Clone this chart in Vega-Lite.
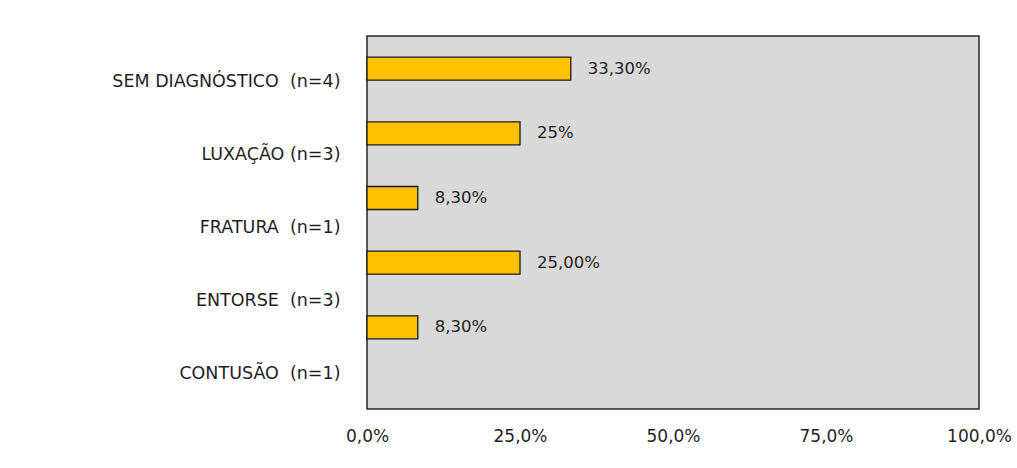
{
  "$schema": "https://vega.github.io/schema/vega-lite/v6.json",
  "autosize": "none",
  "width": 612,
  "height": 373,
  "padding": {"left": 367, "top": 36, "right": 38, "bottom": 59},
  "background": "#ffffff",
  "config": {
    "view": {"fill": "#d9d9d9", "stroke": "#262626", "strokeWidth": 1.5},
    "font": "DejaVu Sans"
  },
  "data": {
    "values": [
      {"cat": "SEM DIAGNÓSTICO \u00a0(n=4)", "value": 33.3, "label": "33,30%"},
      {"cat": "LUXAÇÃO (n=3)", "value": 25, "label": "25%"},
      {"cat": "FRATURA \u00a0(n=1)", "value": 8.3, "label": "8,30%"},
      {"cat": "ENTORSE \u00a0(n=3)", "value": 25, "label": "25,00%"},
      {"cat": "CONTUSÃO \u00a0(n=1)", "value": 8.3, "label": "8,30%"}
    ]
  },
  "encoding": {
    "x": {
      "field": "value",
      "type": "quantitative",
      "scale": {"domain": [0, 100], "nice": false},
      "axis": {
        "title": null,
        "values": [0, 25, 50, 75, 100],
        "labelExpr": "replace(format(datum.value, '.1f'), '.', ',') + '%'",
        "ticks": false,
        "domain": false,
        "grid": false,
        "labelFlush": false,
        "labelPadding": 19,
        "labelFontSize": 17,
        "labelColor": "#1f1f1f",
        "labelFont": "DejaVu Sans"
      }
    }
  },
  "layer": [
    {
      "encoding": {
        "y": {
          "field": "cat",
          "type": "nominal",
          "sort": null,
          "scale": {"range": [0, 324], "paddingInner": 0.644, "paddingOuter": 0.328},
          "axis": null
        }
      },
      "layer": [
        {
          "mark": {"type": "bar", "color": "#ffc000", "stroke": "#1a1a1a", "strokeWidth": 1.3}
        },
        {
          "mark": {"type": "text", "align": "left", "baseline": "middle", "dx": 17, "fontSize": 16.5, "color": "#1f1f1f", "font": "DejaVu Sans"},
          "encoding": {"text": {"field": "label"}}
        }
      ]
    },
    {
      "mark": {"type": "point", "opacity": 0},
      "encoding": {
        "y": {
          "field": "cat",
          "type": "nominal",
          "sort": null,
          "scale": {"type": "point", "padding": 0.563},
          "axis": {
            "orient": "left",
            "title": null,
            "ticks": false,
            "domain": false,
            "grid": false,
            "labelOffset": 5,
            "labelPadding": 27,
            "labelFontSize": 17.5,
            "labelColor": "#1f1f1f",
            "labelFont": "DejaVu Sans",
            "labelLimit": 400
          }
        }
      }
    }
  ],
  "resolve": {"scale": {"y": "independent"}, "axis": {"y": "independent"}}
}
